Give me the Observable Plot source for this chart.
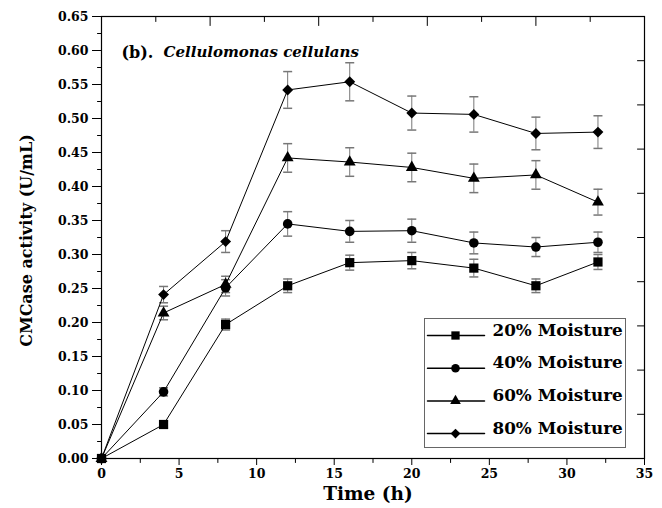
<!DOCTYPE html>
<html><head><meta charset="utf-8">
<script src="https://cdn.jsdelivr.net/npm/d3@7"></script>
<script src="https://cdn.jsdelivr.net/npm/@observablehq/plot@0.6"></script>
<style>
html,body{margin:0;padding:0;background:#fff;}
#chart svg{display:block;}
</style></head><body><div id="chart"></div>
<script>
// ---- data ----
const time = [0, 4, 8, 12, 16, 20, 24, 28, 32];
const seriesNames = ["20% Moisture", "40% Moisture", "60% Moisture", "80% Moisture"];
const m20 = [0, 0.050, 0.197, 0.254, 0.288, 0.291, 0.280, 0.254, 0.289];
const m40 = [0, 0.098, 0.251, 0.345, 0.334, 0.335, 0.317, 0.311, 0.318];
const m60 = [0, 0.214, 0.256, 0.442, 0.436, 0.428, 0.412, 0.417, 0.377];
const m80 = [0, 0.241, 0.319, 0.542, 0.554, 0.508, 0.506, 0.478, 0.480];
const e20 = [0, 0.005, 0.008, 0.010, 0.011, 0.012, 0.013, 0.010, 0.011];
const e40 = [0, 0.006, 0.012, 0.018, 0.016, 0.017, 0.016, 0.014, 0.015];
const e60 = [0, 0.010, 0.012, 0.021, 0.021, 0.021, 0.021, 0.021, 0.019];
const e80 = [0, 0.012, 0.016, 0.027, 0.028, 0.025, 0.026, 0.024, 0.024];
const xTicks = [0, 5, 10, 15, 20, 25, 30, 35];
const xMinorTicks = [2.5, 7.5, 12.5, 17.5, 22.5, 27.5, 32.5];
const yTicks = [0, 0.05, 0.10, 0.15, 0.20, 0.25, 0.30, 0.35, 0.40, 0.45, 0.50, 0.55, 0.60, 0.65];
const yMinorTicks = [0.025, 0.075, 0.125, 0.175, 0.225, 0.275, 0.325, 0.375, 0.425, 0.475, 0.525, 0.575, 0.625];
const topMajorTicks = [7, 14, 21, 28];
const topMinorTicks = [3.5, 10.5, 17.5, 24.5, 31.5];
const rightTicks = [0.065, 0.13, 0.195, 0.26, 0.325, 0.39, 0.455, 0.52, 0.585];
const titleLead = "(b).";
const titleSpecies = "Cellulomonas cellulans";
const xLabel = "Time (h)";
const yLabel = "CMCase activity (U/mL)";

const seriesValues = [m20, m40, m60, m80];
const seriesErrors = [e20, e40, e60, e80];
const symbols = [d3.symbolSquare, d3.symbolCircle, d3.symbolTriangle, d3.symbolDiamond2];
const radii = [5.2, 4.8, 4.4, 4.9];

const rows = seriesNames.flatMap((s, i) => time.map((t, j) => ({series: s, i, t, v: seriesValues[i][j], e: seriesErrors[i][j]})));
const errRows = rows.filter(d => d.e > 0);

const tickShape = {draw(ctx, l) { ctx.moveTo(0, 0); ctx.lineTo(0, -l); }};
const capSymbol = {draw(ctx) { ctx.moveTo(-4.5, 0); ctx.lineTo(4.5, 0); }};
const FONT = "DejaVu Serif";

const tickVec = (data, key, frameAnchor, rotate, length) =>
  Plot.vector(data, {[key]: d => d, frameAnchor, rotate, length, anchor: "start", shape: tickShape, stroke: "black", strokeWidth: 1});

const legendMarks = seriesNames.flatMap((name, i) => {
  const dy = -123 + i * 32.7;
  return [
    Plot.vector([0], {frameAnchor: "bottom-right", dx: -217, dy, rotate: 90, length: 57, anchor: "start", shape: tickShape, stroke: "black"}),
    Plot.dot([0], {frameAnchor: "bottom-right", dx: -189, dy, symbol: symbols[i], r: radii[i] * 0.9, fill: "black", stroke: "none"}),
    Plot.text([name], {frameAnchor: "bottom-right", dx: -152, dy, text: d => d, textAnchor: "start", fontSize: 16.8, fontWeight: "bold", fontFamily: FONT, fill: "black"})
  ];
});

const chart = Plot.plot({
  width: 662,
  height: 508,
  marginLeft: 101,
  marginRight: 18,
  marginTop: 16,
  marginBottom: 50,
  style: `font-family: '${FONT}'; font-weight: bold; font-size: 12.5px; color: black; background: white;`,
  x: {domain: [0, 35], ticks: xTicks, tickSize: 7, tickPadding: 4, label: null},
  y: {domain: [0, 0.65], ticks: yTicks, tickSize: 9, tickPadding: 4, tickFormat: d3.format(".2f"), label: null},
  marks: [
    // error bars
    Plot.ruleX(errRows, {x: "t", y1: d => d.v - d.e, y2: d => d.v + d.e, stroke: "#777", strokeWidth: 1}),
    Plot.dot(errRows, {x: "t", y: d => d.v + d.e, symbol: capSymbol, r: 3, stroke: "#777", fill: "none"}),
    Plot.dot(errRows, {x: "t", y: d => d.v - d.e, symbol: capSymbol, r: 3, stroke: "#777", fill: "none"}),
    // lines
    Plot.line(rows, {x: "t", y: "v", z: "series", stroke: "black", strokeWidth: 1}),
    // markers
    ...seriesNames.map((s, i) => Plot.dot(rows.filter(d => d.i === i), {x: "t", y: "v", symbol: symbols[i], r: radii[i], fill: "black", stroke: "none"})),
    // extra ticks
    tickVec(xMinorTicks, "x", "bottom", 180, 4),
    tickVec(yMinorTicks, "y", "left", -90, 4),
    tickVec(topMajorTicks, "x", "top", 180, 9),
    tickVec(topMinorTicks, "x", "top", 180, 5),
    tickVec(rightTicks, "y", "right", -90, 7),
    Plot.frame({stroke: "black", strokeWidth: 1.2}),
    // legend box
    Plot.frame({insetLeft: 323, insetTop: 302, insetRight: 19, insetBottom: 11, stroke: "#666", fill: "white"}),
    ...legendMarks,
    // title
    Plot.text([titleLead], {frameAnchor: "top-left", dx: 20, dy: 30, text: d => d, textAnchor: "start", fontSize: 16, fontWeight: "bold", fontFamily: FONT, fill: "black"}),
    Plot.text([titleSpecies], {frameAnchor: "top-left", dx: 62, dy: 30, text: d => d, textAnchor: "start", fontSize: 15, fontWeight: "bold", fontStyle: "italic", fontFamily: FONT, fill: "black"}),
    // axis titles
    Plot.text([yLabel], {frameAnchor: "left", dx: -75, dy: 3, rotate: -90, text: d => d, textAnchor: "middle", fontSize: 16, fontWeight: "bold", fontFamily: FONT, fill: "black"}),
    Plot.text([xLabel], {frameAnchor: "bottom", dx: -5, dy: 41, text: d => d, textAnchor: "middle", fontSize: 18.5, fontWeight: "bold", fontFamily: FONT, fill: "black"})
  ]
});
document.getElementById("chart").appendChild(chart);
</script>
</body></html>
